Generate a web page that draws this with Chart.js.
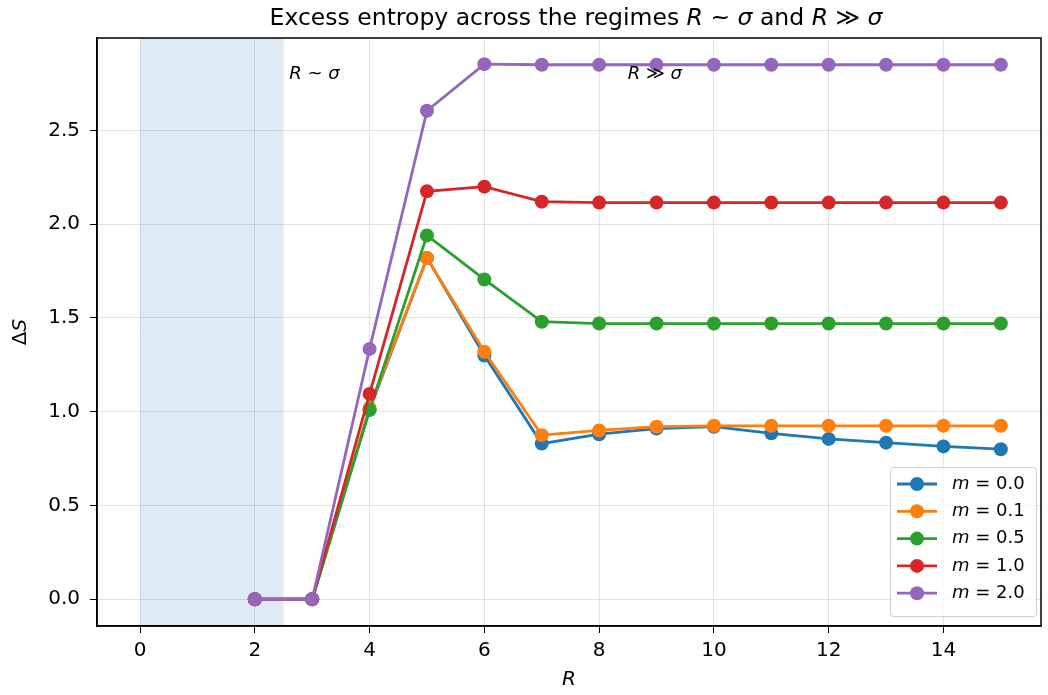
<!DOCTYPE html>
<html>
<head>
<meta charset="utf-8">
<script src="https://cdn.jsdelivr.net/npm/chart.js@4"></script>
<style>
  body { margin: 0; background: #fff; }
  #wrap { width: 1048px; height: 695px; }
</style>
</head>
<body>
<div id="wrap"><canvas id="chart" width="1048" height="695"></canvas></div>
<script>
var R = [2, 3, 4, 5, 6, 7, 8, 9, 10, 11, 12, 13, 14, 15]
var labels = ['0.0', '0.1', '0.5', '1.0', '2.0']
var s_m00 = [0, 0, 1.01, 1.82, 1.30, 0.83, 0.88, 0.91, 0.92, 0.885, 0.855, 0.835, 0.815, 0.80]
var s_m01 = [0, 0, 1.02, 1.82, 1.32, 0.875, 0.90, 0.92, 0.925, 0.925, 0.925, 0.925, 0.925, 0.925]
var s_m05 = [0, 0, 1.01, 1.94, 1.705, 1.48, 1.47, 1.47, 1.47, 1.47, 1.47, 1.47, 1.47, 1.47]
var s_m10 = [0, 0, 1.095, 2.175, 2.20, 2.12, 2.115, 2.115, 2.115, 2.115, 2.115, 2.115, 2.115, 2.115]
var s_m20 = [0, 0, 1.335, 2.605, 2.853, 2.85, 2.85, 2.85, 2.85, 2.85, 2.85, 2.85, 2.85, 2.85]
var series = [s_m00, s_m01, s_m05, s_m10, s_m20]
var colors = ['#1f77b4', '#ff7f0e', '#2ca02c', '#d62728', '#9467bd']
var xTicks = [0, 2, 4, 6, 8, 10, 12, 14]
var yTicks = [0, 0.5, 1.0, 1.5, 2.0, 2.5]
var shadeFrom = 0, shadeTo = 2.5

var FONT = 'DejaVu Sans'

var datasets = series.map(function(vals, i){
  return {
    label: 'm = ' + labels[i],
    data: vals.map(function(v, j){ return {x: R[j], y: v} }),
    borderColor: colors[i],
    backgroundColor: colors[i],
    pointBackgroundColor: colors[i],
    pointBorderColor: colors[i],
    pointRadius: 7,
    pointBorderWidth: 0,
    borderWidth: 2.8,
    tension: 0,
    order: series.length - i
  }
})

// draw mixed regular/italic text pieces
var drawPieces = function(ctx, pieces, x, y, size, align){
  var total = 0
  pieces.forEach(function(p){
    ctx.font = (p[1] ? 'italic ' : '') + size + 'px "' + FONT + '"'
    p.w = ctx.measureText(p[0]).width
    total += p.w
  })
  var cx = align === 'center' ? x - total / 2 : x
  pieces.forEach(function(p){
    ctx.font = (p[1] ? 'italic ' : '') + size + 'px "' + FONT + '"'
    ctx.fillText(p[0], cx, y)
    cx += p.w
  })
}

var decor = {
  id: 'decor',
  beforeDatasetsDraw: function(chart){
    var ctx = chart.ctx, a = chart.chartArea, xs = chart.scales.x
    ctx.save()
    ctx.fillStyle = 'rgba(31,119,180,0.15)'
    var x0 = xs.getPixelForValue(shadeFrom), x1 = xs.getPixelForValue(shadeTo)
    ctx.fillRect(x0, a.top, x1 - x0, a.bottom - a.top)
    ctx.restore()
  },
  afterDraw: function(chart){
    var ctx = chart.ctx, a = chart.chartArea, xs = chart.scales.x, ys = chart.scales.y
    ctx.save()
    ctx.strokeStyle = '#000'
    ctx.lineWidth = 1.5
    ctx.strokeRect(a.left, a.top, a.right - a.left, a.bottom - a.top)

    ctx.fillStyle = '#000'
    ctx.textBaseline = 'alphabetic'
    drawPieces(ctx, [['Excess entropy across the regimes ', false], ['R', true], [' ~ ', false], ['σ', true],
      [' and ', false], ['R', true], [' ≫ ', false], ['σ', true]], 576, 25, 23.5, 'center')

    ctx.textBaseline = 'middle'
    var cx = (a.left + a.right) / 2
    drawPieces(ctx, [['R', true]], cx, 680, 20, 'center')

    ctx.save()
    ctx.translate(21, (a.top + a.bottom) / 2)
    ctx.rotate(-Math.PI / 2)
    drawPieces(ctx, [['Δ', false], ['S', true]], 0, 0, 20, 'center')
    ctx.restore()

    drawPieces(ctx, [['R', true], [' ~ ', false], ['σ', true]], xs.getPixelForValue(2.6), ys.getPixelForValue(2.8), 18, 'left')
    drawPieces(ctx, [['R', true], [' ≫ ', false], ['σ', true]], xs.getPixelForValue(8.5), ys.getPixelForValue(2.8), 18, 'left')

    // legend
    var lx = 890, ly = 467, lw = 146, lh = 149
    ctx.fillStyle = 'rgba(255,255,255,0.8)'
    ctx.strokeStyle = '#d0d0d0'
    ctx.lineWidth = 1
    ctx.beginPath()
    ctx.roundRect(lx + 0.5, ly + 0.5, lw, lh, 3)
    ctx.fill()
    ctx.stroke()
    series.forEach(function(s, i){
      var yy = ly + 17 + i * 27.3
      ctx.strokeStyle = colors[i]
      ctx.lineWidth = 2.8
      ctx.beginPath()
      ctx.moveTo(897, yy)
      ctx.lineTo(937, yy)
      ctx.stroke()
      ctx.fillStyle = colors[i]
      ctx.beginPath()
      ctx.arc(917, yy, 7, 0, Math.PI * 2)
      ctx.fill()
      ctx.fillStyle = '#000'
      drawPieces(ctx, [['m', true], [' = ' + labels[i], false]], 952, yy, 18, 'left')
    })
    ctx.restore()
  }
}

var ctx = document.getElementById('chart')

var chart = new Chart(ctx, {
  type: 'line',
  data: { datasets: datasets },
  options: {
    responsive: false,
    animation: false,
    layout: { padding: { top: 38, right: 6, left: 0, bottom: 0 } },
    plugins: {
      legend: { display: false },
      title: { display: false },
      tooltip: { enabled: false }
    },
    scales: {
      x: {
        type: 'linear',
        min: -0.75,
        max: 15.7,
        afterBuildTicks: function(scale){ scale.ticks = xTicks.map(function(v){ return {value: v} }) },
        afterFit: function(scale){ scale.height = 69; scale.paddingLeft = 0; scale.paddingRight = 0 },
        grid: { color: 'rgba(176,176,176,0.35)', tickColor: '#000', tickLength: 7, lineWidth: 1 },
        border: { color: '#000', width: 1.5 },
        ticks: { color: '#000', font: { family: FONT, size: 20 }, padding: 6, maxRotation: 0,
          callback: function(v){ return v } }
      },
      y: {
        type: 'linear',
        min: -0.1425,
        max: 2.9925,
        afterBuildTicks: function(scale){ scale.ticks = yTicks.map(function(v){ return {value: v} }) },
        afterFit: function(scale){ scale.width = 97 },
        grid: { color: 'rgba(176,176,176,0.35)', tickColor: '#000', tickLength: 7, lineWidth: 1 },
        border: { color: '#000', width: 1.5 },
        ticks: { color: '#000', font: { family: FONT, size: 20 }, padding: 10,
          callback: function(v){ return v.toFixed(1) } }
      }
    }
  },
  plugins: [decor]
});
</script>
</body>
</html>
